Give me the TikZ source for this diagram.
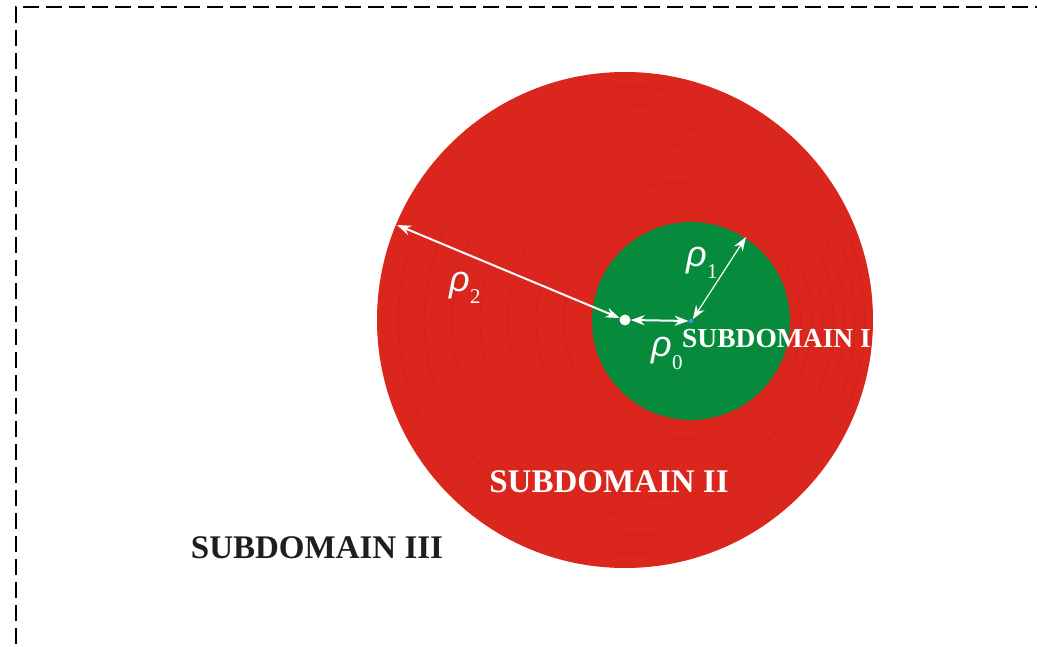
\documentclass[tikz,border=0pt]{standalone}
\usepackage{fontspec}
\setmainfont{Liberation Serif}
\newfontfamily\rhofont{Liberation Sans}
\usetikzlibrary{arrows.meta}
\definecolor{domred}{RGB}{218,38,28}
\definecolor{ringred}{RGB}{209,35,26}
\definecolor{domgreen}{RGB}{6,138,60}
\definecolor{dotblue}{RGB}{60,150,240}
\definecolor{textblack}{RGB}{30,30,30}
\tikzset{
  radarrow/.style={draw=white, line width=2pt, {Stealth[length=14pt,width=10pt]}-{Stealth[length=14pt,width=10pt]}},
  domlabel/.style={font=\bfseries\fontsize{33}{36}\selectfont, inner sep=0pt},
  rholabel/.style={font=\rhofont\itshape\fontsize{36}{38}\selectfont, text=white, inner sep=0pt},
  sublabel/.style={font=\fontsize{21}{23}\selectfont, text=white, inner sep=0pt},
  ring/.style={draw=ringred, line width=0.8pt},
  border/.style={draw=black, line width=2.6pt, dash pattern=on 16pt off 7pt}
}
\begin{document}
\begin{tikzpicture}[x=1pt,y=-1pt]
\useasboundingbox (0,0) rectangle (1037,647);
\clip (0,0) rectangle (1037,647);
\fill[white] (0,0) rectangle (1037,647);
% dashed border (extends beyond the page on right and bottom)
\draw[border] (16,690) -- (16,7) -- (1080,7);
% subdomain II (outer red disc)
\coordinate (O2) at (625,320);
\coordinate (O1) at (691,321);
\fill[domred] (O2) circle (248);
% faint concentric rings
\foreach \t in {0.13,0.26,0.39,0.52,0.65,0.78,0.9}{
  \draw[ring] ({691-66*\t},{321-\t}) circle ({99+149*\t});
}
% subdomain I (green disc)
\fill[domgreen] (O1) circle (99);
% labels of subdomains
\begin{scope}
\clip (O2) circle (248);
\node[domlabel, text=white, anchor=base west] (s1) at (682,348) {\fontsize{27.5}{29}\selectfont SUBDOMAIN I};
\end{scope}
\node[domlabel, text=white, anchor=base] (s2) at (609,492) {SUBDOMAIN II};
\node[domlabel, text=textblack, anchor=base] (s3) at (317,558) {SUBDOMAIN III};
% centres
\node[circle, fill=white, inner sep=0pt, minimum size=11pt] (c2) at (O2) {};
\node[circle, fill=dotblue, inner sep=0pt, minimum size=4.5pt] (c1) at (O1) {};
% end points on circles
\coordinate (P2) at (397,225);
\coordinate (P1) at (746,237);
% radius arrows
\draw[radarrow] (P2) -- (c2.160);
\draw[radarrow] (c2.east) -- (c1.west);
\draw[radarrow, line width=1.2pt] (c1.north east) -- (P1);
% rho labels
\node[rholabel, anchor=base west] (r2) at (449,292) {ρ};
\node[sublabel, anchor=base west] (r2s) at (r2.base east) [yshift=-12pt] {2};
\node[rholabel, anchor=base west] (r1) at (686,267) {ρ};
\node[sublabel, anchor=base west] (r1s) at (r1.base east) [yshift=-12pt] {1};
\node[rholabel, anchor=base west] (r0) at (651,356) {ρ};
\node[sublabel, anchor=base west] (r0s) at (r0.base east) [yshift=-14pt] {0};
\end{tikzpicture}
\end{document}
